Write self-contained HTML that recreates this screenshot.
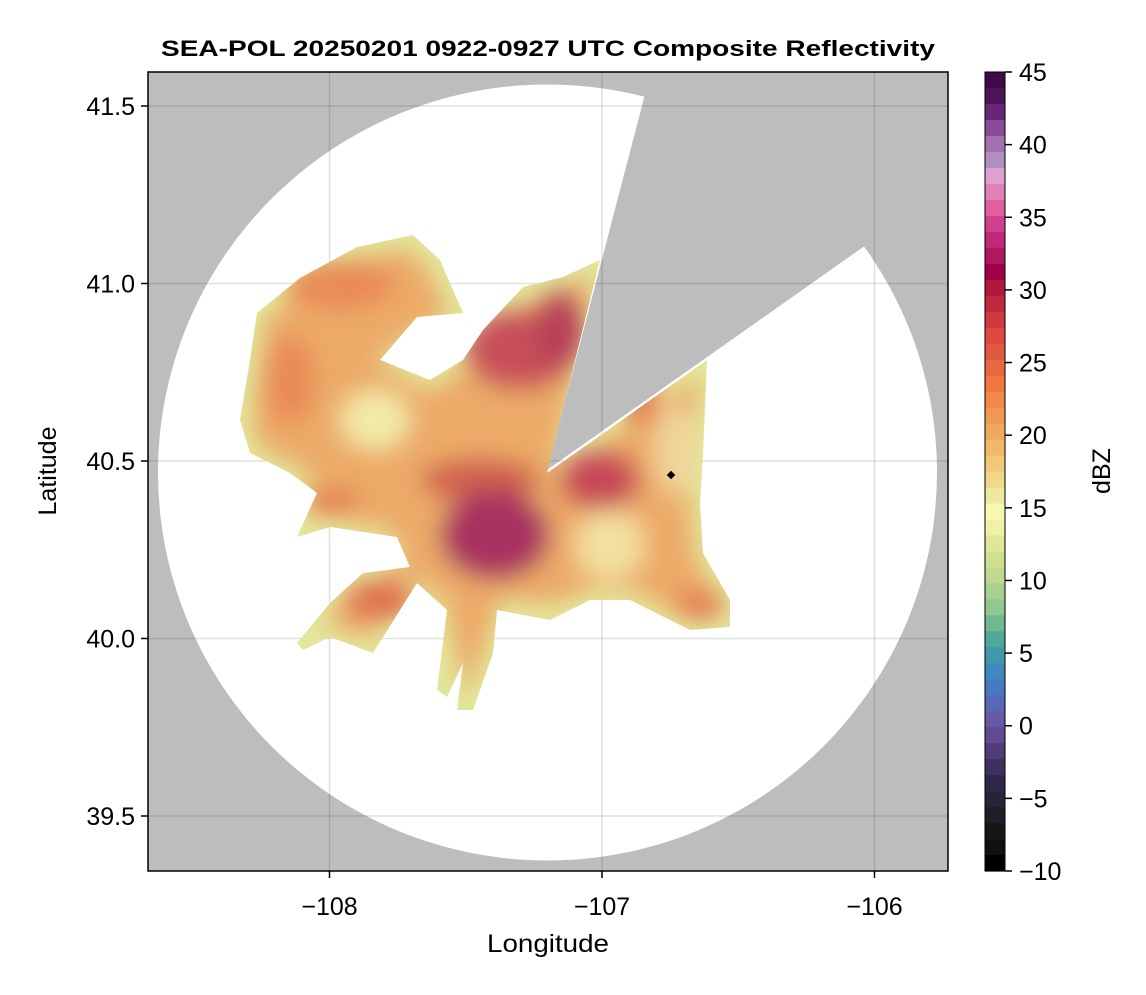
<!DOCTYPE html>
<html><head><meta charset="utf-8"><style>
body{margin:0;background:#fff;font-family:"Liberation Sans",sans-serif}
svg text{font-family:"Liberation Sans",sans-serif}
</style></head><body>
<svg id="chart" width="1146" height="990" xmlns="http://www.w3.org/2000/svg">
<defs>
<clipPath id="pc"><rect x="148" y="72" width="800" height="799"/></clipPath>
<filter id="bl" x="-30%" y="-30%" width="160%" height="160%"><feGaussianBlur stdDeviation="12"/></filter>
<clipPath id="echoclip"><path id="echopath" d="M257,313 L300,278 L357,247 L413,235 L440,260 L463,313 L417,317 L380,360 L430,380 L463,360 L483,330 L523,287 L563,277 L600,260 L547,473 L707,360 L703,453 L700,503 L703,553 L730,600 L730,627 L690,630 L630,600 L590,600 L550,620 L497,610 L493,653 L473,710 L457,710 L463,663 L447,697 L437,690 L447,610 L417,583 L373,653 L330,637 L303,650 L297,643 L330,603 L363,573 L410,567 L397,537 L330,527 L297,537 L317,493 L290,473 L250,453 L240,420 L250,360 Z"/></clipPath>
</defs>
<text x="548" y="56" text-anchor="middle" font-size="22" font-weight="bold" textLength="774" lengthAdjust="spacingAndGlyphs">SEA-POL 20250201 0922-0927 UTC Composite Reflectivity</text>
<g clip-path="url(#pc)">
<rect x="148" y="72" width="800" height="799" fill="#bdbdbd"/>
<ellipse cx="547.5" cy="472.5" rx="389.5" ry="388" fill="#fff"/>
<polygon points="547,470 680,-40 1100,-40 1100,80" fill="#bdbdbd"/>
<g id="grid" stroke="#000" stroke-opacity="0.12" stroke-width="1.5"></g>
<g clip-path="url(#echoclip)">
<rect x="200" y="200" width="600" height="550" fill="#e2e89c"/>
<g filter="url(#bl)">
<path d="M265,318 L302,290 L357,258 L410,248 L430,272 L450,318 L420,330 L375,360 L430,392 L470,365 L492,340 L527,300 L595,275 L552,478 L700,375 L693,455 L690,505 L695,555 L720,605 L690,620 L630,590 L590,590 L550,605 L500,598 L485,650 L465,700 L455,650 L445,600 L410,575 L370,640 L330,625 L320,630 L340,600 L370,582 L405,560 L390,530 L330,518 L315,525 L325,490 L295,465 L258,448 L252,420 L260,360 Z" fill="#ecaa68"/>
<ellipse cx="375" cy="420" rx="35" ry="30" fill="#f2eaa8"/>
<ellipse cx="610" cy="545" rx="35" ry="35" fill="#f3e0a0"/>
<ellipse cx="675" cy="450" rx="22" ry="45" fill="#f1d49a"/>
<ellipse cx="340" cy="285" rx="55" ry="25" fill="#e98a55"/>
<ellipse cx="290" cy="380" rx="25" ry="45" fill="#e98a55"/>
<ellipse cx="520" cy="350" rx="55" ry="40" fill="#c8505a"/>
<ellipse cx="560" cy="330" rx="25" ry="40" fill="#b84058"/>
<ellipse cx="480" cy="480" rx="60" ry="22" fill="#d06050"/>
<ellipse cx="495" cy="535" rx="55" ry="45" fill="#a83060"/>
<ellipse cx="600" cy="480" rx="40" ry="30" fill="#c84858"/>
<ellipse cx="380" cy="600" rx="35" ry="20" fill="#e07050"/>
<ellipse cx="330" cy="500" rx="30" ry="12" fill="#e47a50"/>
<ellipse cx="700" cy="605" rx="25" ry="15" fill="#e47a50"/>
<ellipse cx="640" cy="400" rx="18" ry="25" fill="#e07a55"/>
</g>
</g>
<rect x="668" y="472" width="6" height="6" transform="rotate(45 671 475)" fill="#000"/>
</g>
<rect x="148" y="72" width="800" height="799" fill="none" stroke="#000" stroke-width="1.5"/>
<g id="axes"></g>
<text x="548" y="952" text-anchor="middle" font-size="25" textLength="122" lengthAdjust="spacingAndGlyphs">Longitude</text>
<text x="56" y="471" text-anchor="middle" font-size="25" transform="rotate(-90 56 471)">Latitude</text>
<g id="cbar"></g>
<text x="1110" y="471" text-anchor="middle" font-size="25" transform="rotate(-90 1110 471)">dBZ</text>
</svg>
<script>
const lonTicks=[-108,-107,-106];
const latTicks=[41.5,41.0,40.5,40.0,39.5];
const lonLabels=["\u2212108","\u2212107","\u2212106"];
const latLabels=["41.5","41.0","40.5","40.0","39.5"];
const cbTicks=[45,40,35,30,25,20,15,10,5,0,-5,-10];
const cbColors=["#3e0a4a","#4e1458","#6a2478","#8a4a98","#a070b0","#b090c0","#e0a0d0","#e080b8","#e060a0","#d04090","#c02878","#b01860","#a00048","#b01840","#c02840","#d03840","#e04840","#e05840","#e86840","#f07840","#f08848","#f09858","#f0a860","#f0b868","#f0c878","#f0d888","#f0e8a0","#f8f8b0","#f0f0a8","#e0e898","#d0e090","#c0d890","#a8d090","#90c890","#70b890","#50a898","#4098a8","#4088c0","#4878c0","#5868b8","#6858a8","#604a90","#503c78","#403060","#302848","#282438","#201c28","#181418","#101010","#000000"];
const NS="http://www.w3.org/2000/svg";
const xs=v=>602+(v+107)*272.5;
const ys=v=>461-(v-40.5)*355;
const cy=v=>871-(v+10)/55*799;
function mk(t,a,p){const e=document.createElementNS(NS,t);for(const k in a)e.setAttribute(k,a[k]);p.appendChild(e);return e;}
const grid=document.getElementById('grid'),axes=document.getElementById('axes'),cbar=document.getElementById('cbar');
lonTicks.forEach((v,i)=>{
 const g=mk('line',{x1:xs(v),x2:xs(v),y1:72,y2:871},grid);
 
 
 const t=mk('line',{x1:xs(v),x2:xs(v),y1:871,y2:878,stroke:'#000','stroke-width':1.5},axes);
 
 
 const l=mk('text',{x:xs(v),y:915,'text-anchor':'middle','font-size':25},axes);l.textContent=lonLabels[i];
 
 
});
latTicks.forEach((v,i)=>{
 const g=mk('line',{x1:148,x2:948,y1:ys(v),y2:ys(v)},grid);
 
 
 const t=mk('line',{x1:141,x2:148,y1:ys(v),y2:ys(v),stroke:'#000','stroke-width':1.5},axes);
 
 
 const l=mk('text',{x:135,y:ys(v)+9,'text-anchor':'end','font-size':25},axes);l.textContent=latLabels[i];
 
 
});
const n=cbColors.length,bh=799/n;
cbColors.forEach((c,i)=>{
 const r=mk('rect',{x:985,y:72+i*bh,width:20,height:bh+0.6,fill:c},cbar);
 
 
});
const fr=mk('rect',{x:985,y:72,width:20,height:799,fill:'none',stroke:'#000','stroke-width':1},cbar);


cbTicks.forEach(v=>{
 const t=mk('line',{x1:1005,x2:1012,y1:cy(v),y2:cy(v),stroke:'#000','stroke-width':1.5},cbar);
 
 
 const l=mk('text',{x:1019,y:cy(v)+9,'font-size':25},cbar);l.textContent=v<0?'\u2212'+(-v):String(v);
 
 
});
</script>
</body></html>
